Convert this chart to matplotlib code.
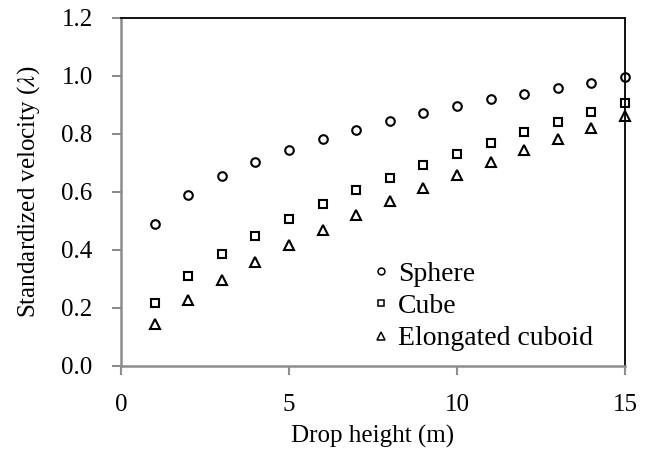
import numpy as np
import matplotlib
matplotlib.use("Agg")
import matplotlib.pyplot as plt

plt.rcParams['font.family'] = ['Liberation Serif', 'DejaVu Serif']
plt.rcParams['mathtext.fontset'] = 'stix'

heights = [1, 2, 3, 4, 5, 6, 7, 8, 9, 10, 11, 12, 13, 14, 15]
sphere = [0.490, 0.588, 0.653, 0.703, 0.746, 0.783, 0.815, 0.843, 0.871, 0.896,
          0.919, 0.939, 0.958, 0.977, 0.995]
cube = [0.215, 0.310, 0.386, 0.449, 0.506, 0.558, 0.605, 0.648, 0.692, 0.731,
        0.769, 0.806, 0.840, 0.875, 0.908]
cuboid = [0.144, 0.225, 0.294, 0.358, 0.415, 0.469, 0.520, 0.567, 0.613, 0.657,
          0.702, 0.744, 0.783, 0.822, 0.861]

fig = plt.figure(figsize=(6.51, 4.58), dpi=100)
ax = fig.add_axes([0.186, 0.2017, 0.774, 0.759])

mk = dict(linestyle='none', markerfacecolor='white', markeredgecolor='black',
          markeredgewidth=1.5, clip_on=False)
ax.plot(heights, sphere, marker='o', markersize=6.2, label='Sphere', **mk)
ax.plot(heights, cube, marker='s', markersize=5.6, label='Cube', **mk)
ax.plot(heights, cuboid, marker='^', markersize=6.5, label='Elongated cuboid', **mk)

ax.set_xlim(0, 15)
ax.set_ylim(0, 1.2)
ax.set_xticks([0, 5, 10, 15])
ax.set_yticks(np.arange(0, 1.21, 0.2))
ax.set_yticklabels(['%.1f' % v for v in np.arange(0, 1.21, 0.2)])

for s in ['left', 'bottom']:
    ax.spines[s].set_color('#8c8c8c')
    ax.spines[s].set_linewidth(1.8)
for s in ['top', 'right']:
    ax.spines[s].set_color('black')
    ax.spines[s].set_linewidth(1.3)

ax.tick_params(axis='both', direction='out', color='#8c8c8c', width=1.5,
               labelsize=18, length=6.5)
ax.tick_params(axis='y', pad=14)
ax.tick_params(axis='x', pad=14)

ax.set_xlabel('Drop height (m)', fontsize=18, labelpad=6)
ax.set_ylabel(r'Standardized velocity ($\lambda$)', fontsize=18, labelpad=14)

leg = ax.legend(loc='lower right', bbox_to_anchor=(0.975, -0.015), frameon=False,
                fontsize=20, handlelength=0.6, handletextpad=0.3,
                labelspacing=0.25, borderaxespad=0.3, markerscale=0.8)
for h in leg.legend_handles:
    h.set_markeredgewidth(1.1)

fig.savefig('out.png', dpi=100)
